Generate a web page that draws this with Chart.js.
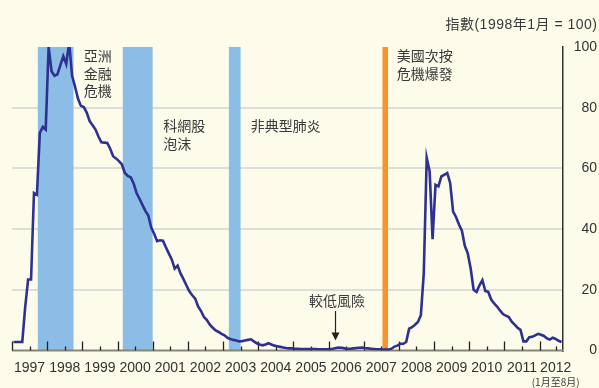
<!DOCTYPE html>
<html>
<head>
<meta charset="utf-8">
<script src="https://cdn.jsdelivr.net/npm/chart.js@4"></script>
<style>
  html, body { margin: 0; background: #fdfbea; }
  canvas { display: block; }
</style>
</head>
<body>
<canvas id="riskChart" width="599" height="388"></canvas>
<script>
// index, Jan 1998 = 100, one value per month from Jan 1997 to Aug 2012
const values = [
  2.8, 2.8, 2.8, 2.8, 14.3, 23.4, 23.4, 51.9, 51.3, 71.7, 73.7, 72.8,      // 1997
  100, 92, 90.5, 91, 94, 97, 94.4, 101.5, 90.5, 87, 83, 80.6,              // 1998
  80.2, 78.4, 75.6, 74.2, 72.8, 70.5, 68.6, 68.5, 68.4, 66.5, 64, 63.3,    // 1999
  62.4, 61.3, 58.5, 57.5, 57.1, 55, 51.9, 50, 48, 46, 44.5, 40.5,          // 2000
  38.5, 36, 36.3, 36.2, 34, 32, 30, 27, 28, 25.4, 23.5, 21.5,              // 2001
  19.5, 18.2, 17.1, 14.5, 13, 11, 10, 8.5, 7.5, 6.6, 6.1, 5.5,             // 2002
  5, 4.2, 3.8, 3.5, 3.3, 3, 3.1, 3.3, 3.5, 3.7, 3, 2.4,                    // 2003
  2, 1.7, 2, 2.4, 2, 1.6, 1.4, 1.2, 1, 0.8, 0.7, 0.7,                      // 2004
  0.6, 0.6, 0.5, 0.5, 0.5, 0.5, 0.5, 0.5, 0.4, 0.4, 0.4, 0.4,              // 2005
  0.5, 0.6, 0.8, 1, 0.9, 0.7, 0.6, 0.6, 0.7, 0.8, 0.9, 1,                  // 2006
  0.8, 0.7, 0.6, 0.5, 0.4, 0.4, 0.3, 0.3, 0.3, 0.6, 1.3, 1.6,              // 2007
  2.2, 2.2, 2.8, 7.2, 7.7, 8.5, 9.4, 11.6, 25.5, 63.5, 59, 36.7,           // 2008
  54.6, 54.1, 57.4, 57.9, 58.5, 55.2, 45.8, 44, 41.5, 39.5, 34.5, 32,      // 2009
  27, 20, 19.3, 21.5, 23.2, 19.6, 19.3, 16.8, 15.5, 14.5, 13.2, 12,        // 2010
  11.5, 11, 9.5, 8.5, 7.5, 6.8, 3, 3, 4.4, 4.5, 5, 5.5,                    // 2011
  5.2, 4.8, 4, 3.6, 4.2, 3.8, 3.2, 2.8                                     // 2012 (Jan-Aug)
];

const yearLabels = ["1997", "1998", "1999", "2000", "2001", "2002", "2003", "2004",
  "2005", "2006", "2007", "2008", "2009", "2010", "2011", "2012"];
// month where each year label sits (mid-year, 2012 only runs to August)
const labelPos = [6, 18, 30, 42, 54, 66, 78, 90, 102, 114, 126, 138, 150, 162, 174, 185.5];
const yearStart = [0, 12, 24, 36, 48, 60, 72, 84, 96, 108, 120, 132, 144, 156, 168, 180];

// shaded periods, in months from Jan 1997
const bandStart = [8.8, 37.8, 74, 126.4];
const bandEnd = [21, 48, 78, 128.3];
const bandColors = ["#8bbde6", "#8bbde6", "#8bbde6", "#f6952e"];

const notes = [
  { lines: ["亞洲", "金融", "危機"], month: 24.5, value: 97 },
  { lines: ["科網股", "泡沫"], month: 51.6, value: 74 },
  { lines: ["非典型肺炎"], month: 81.5, value: 74 },
  { lines: ["美國次按", "危機爆發"], month: 131.3, value: 97 }
];

const cjk = '"Noto Sans CJK TC", "Noto Sans CJK SC", sans-serif';
const textColor = "#3a3a3a";

const decor = {
  id: "decor",
  beforeDatasetsDraw(chart) {
    const ctx = chart.ctx;
    const x = chart.scales.x, y = chart.scales.y;
    const top = y.getPixelForValue(100), bottom = y.getPixelForValue(0);
    ctx.save();
    bandStart.forEach((s, i) => {
      const x0 = x.getPixelForValue(s), x1 = x.getPixelForValue(bandEnd[i]);
      ctx.fillStyle = bandColors[i];
      ctx.fillRect(x0, top, x1 - x0, bottom - top);
    });
    // x axis line and tick marks (pointing up)
    ctx.strokeStyle = "#85857a";
    ctx.lineWidth = 2;
    ctx.beginPath();
    ctx.moveTo(x.left, bottom);
    ctx.lineTo(x.right, bottom);
    ctx.stroke();
    ctx.strokeStyle = "#222";
    ctx.lineWidth = 1.3;
    ctx.beginPath();
    yearStart.forEach(m => {
      const px = Math.round(x.getPixelForValue(m)) + 0.5;
      ctx.moveTo(px, bottom);
      ctx.lineTo(px, bottom - 9);
    });
    labelPos.forEach(m => {
      const px = Math.round(x.getPixelForValue(m)) + 0.5;
      ctx.moveTo(px, bottom);
      ctx.lineTo(px, bottom - 4);
    });
    ctx.stroke();
    ctx.restore();
  },
  afterDatasetsDraw(chart) {
    const ctx = chart.ctx;
    const x = chart.scales.x, y = chart.scales.y;
    ctx.save();
    ctx.fillStyle = textColor;
    ctx.font = "14px " + cjk;
    ctx.textAlign = "left";
    ctx.textBaseline = "middle";
    notes.forEach(n => {
      n.lines.forEach((t, j) => {
        ctx.fillText(t, x.getPixelForValue(n.month), y.getPixelForValue(n.value) + j * 17.5);
      });
    });
    // lower risk marker
    ctx.textAlign = "center";
    ctx.fillText("較低風險", x.getPixelForValue(110.9), y.getPixelForValue(16.5));
    const ax = Math.round(x.getPixelForValue(110.2)) + 0.5;
    const tip = y.getPixelForValue(3.3);
    ctx.strokeStyle = "#222";
    ctx.fillStyle = "#222";
    ctx.lineWidth = 1.2;
    ctx.beginPath();
    ctx.moveTo(ax, y.getPixelForValue(13));
    ctx.lineTo(ax, tip - 6);
    ctx.stroke();
    ctx.beginPath();
    ctx.moveTo(ax - 4, tip - 8);
    ctx.lineTo(ax + 4, tip - 8);
    ctx.lineTo(ax, tip);
    ctx.closePath();
    ctx.fill();
    // period note under 2012
    ctx.fillStyle = textColor;
    ctx.font = "10px " + cjk;
    ctx.fillText("(1月至8月)", x.getPixelForValue(185.5), 382);
    // unit title
    ctx.textAlign = "right";
    ctx.font = '14px "Liberation Sans", ' + cjk;
    ctx.letterSpacing = "0.5px";
    ctx.fillText("指數(1998年1月 = 100)", 597.5, 25);
    ctx.restore();
  }
};

new Chart(document.querySelector("#riskChart"), {
  type: "line",
  data: {
    datasets: [{
      label: "指數",
      data: values.map((v, i) => ({ x: i + 0.5, y: v })),
      borderColor: "#2e3192",
      borderWidth: 2.6,
      pointRadius: 0,
      tension: 0,
      fill: false
    }]
  },
  options: {
    responsive: false,
    animation: false,
    layout: { padding: { left: 12, right: 2, top: 47, bottom: 0 } },
    plugins: { legend: { display: false }, tooltip: { enabled: false } },
    scales: {
      x: {
        type: "linear",
        min: 0,
        max: 188,
        afterFit(s) { s.height = 37.5; },
        afterBuildTicks(s) { s.ticks = labelPos.map(v => ({ value: v })); },
        grid: { display: false, drawTicks: false },
        border: { display: false },
        ticks: {
          autoSkip: false,
          maxRotation: 0,
          padding: 9,
          color: "#333",
          font: { family: '"Liberation Sans Narrow", "Liberation Sans", Arial', size: 14 },
          callback: (v, i) => yearLabels[i]
        }
      },
      y: {
        position: "right",
        min: 0,
        max: 100,
        afterFit(s) { s.width = 34; },
        grid: {
          drawTicks: false,
          lineWidth: 2,
          color: c => (c.tick.value === 0 || c.tick.value === 100) ? "rgba(0,0,0,0)" : "#deded8"
        },
        border: { display: true, color: "#333", width: 1.5 },
        ticks: {
          stepSize: 20,
          crossAlign: "far",
          padding: 10,
          color: "#333",
          font: { family: '"Liberation Sans", Arial', size: 14 }
        }
      }
    }
  },
  plugins: [decor]
});
</script>
</body>
</html>
